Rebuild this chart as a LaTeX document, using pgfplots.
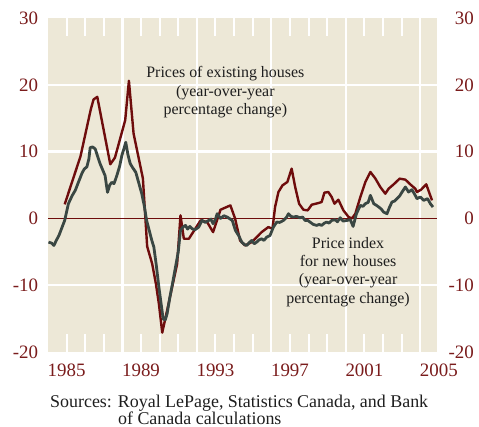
\documentclass[border=0pt]{standalone}
\usepackage{fontspec}
\setmainfont{Liberation Serif}
\usepackage{pgfplots}
\pgfplotsset{compat=1.18}
\definecolor{bg}{RGB}{237,232,215}
\definecolor{redl}{RGB}{110,12,12}
\definecolor{grayl}{RGB}{58,71,67}
\definecolor{lab}{RGB}{122,28,28}
\definecolor{txt}{RGB}{30,30,30}

\pgfplotstableread{
x y
1984.9 2.1
1985.75 9.3
1986.3 16.3
1986.45 17.8
1986.65 18.2
1987.35 8.1
1987.6 9.1
1988.15 14.7
1988.35 20.6
1988.6 12.7
1989.1 6.0
1989.33 -4.2
1989.6 -6.8
1989.8 -9.8
1989.96 -12.8
1990.14 -17.1
1990.4 -13.8
1990.67 -10.3
1990.94 -6.8
1991.12 0.45
1991.3 -3.05
1991.57 -3.05
1992.2 -0.3
1992.55 -0.55
1992.87 -2.05
1993.27 1.3
1993.8 1.95
1994.05 0
1994.32 -3.3
1994.59 -4.05
1994.95 -3.55
1995.48 -2.05
1995.84 -1.3
1996.06 -1.55
1996.2 1.7
1996.38 3.95
1996.6 4.95
1996.86 5.45
1997.09 7.45
1997.28 4.7
1997.49 2.2
1997.72 1.3
1997.95 1.2
1998.17 2.05
1998.53 2.3
1998.7 2.45
1998.85 3.85
1999.06 3.95
1999.24 3.2
1999.39 2.2
1999.6 2.8
1999.87 1.2
2000.15 0.2
2000.33 0
2000.51 0.7
2000.78 3.2
2001.05 5.45
2001.32 6.95
2001.59 5.95
2001.85 4.7
2002.12 3.7
2002.3 4.45
2002.57 5.1
2002.89 5.95
2003.2 5.8
2003.46 5.1
2003.73 4.45
2003.82 3.95
2004.04 4.3
2004.32 5.1
2004.5 3.7
2004.63 2.7
}\existing

\pgfplotstableread{
x y
1984.03 -3.55
1984.2 -3.7
1984.32 -4.05
1984.45 -3.3
1984.6 -2.5
1984.75 -1.4
1984.9 -0.3
1985.1 2.2
1985.3 3.4
1985.47 4.2
1985.65 5.5
1985.82 6.7
1985.95 7.4
1986.09 7.7
1986.2 8.9
1986.27 10.6
1986.4 10.7
1986.54 10.4
1986.68 9.2
1986.8 8.2
1986.95 7.2
1987.07 6.4
1987.2 3.9
1987.32 5.0
1987.43 5.4
1987.55 5.2
1987.7 6.4
1987.85 7.8
1987.97 9.4
1988.1 10.6
1988.18 11.4
1988.3 9.5
1988.42 8.2
1988.55 7.6
1988.72 6.9
1988.88 5.3
1989.04 3.7
1989.18 1.8
1989.3 -0.3
1989.45 -1.9
1989.58 -3.3
1989.69 -4.3
1989.82 -7.0
1989.96 -10.3
1990.08 -12.8
1990.19 -15.05
1990.3 -15.2
1990.4 -14.3
1990.55 -11.8
1990.7 -9.6
1990.85 -7.3
1991.0 -5.0
1991.12 -1.8
1991.25 -1.3
1991.39 -1.05
1991.5 -1.6
1991.62 -1.2
1991.75 -1.55
1991.9 -1.7
1992.1 -1.3
1992.28 -0.3
1992.45 -0.6
1992.64 -0.3
1992.75 -0.1
1992.87 -0.8
1993.0 -0.1
1993.09 0.7
1993.27 0
1993.45 0.4
1993.63 0.2
1993.9 -0.3
1994.07 -1.8
1994.25 -2.6
1994.41 -3.55
1994.55 -3.9
1994.68 -4.05
1994.82 -3.6
1994.95 -3.3
1995.08 -3.8
1995.21 -3.55
1995.35 -3.2
1995.48 -3.05
1995.6 -3.3
1995.75 -2.8
1995.93 -2.55
1996.11 -1.3
1996.29 -0.55
1996.45 -0.6
1996.65 -0.3
1996.8 0.1
1996.92 0.7
1997.05 0.3
1997.19 0.2
1997.35 0.3
1997.54 0.1
1997.68 0.2
1997.81 -0.3
1997.95 -0.3
1998.08 -0.55
1998.25 -0.9
1998.44 -1.05
1998.57 -0.9
1998.7 -1.05
1998.85 -0.7
1998.97 -0.55
1999.1 -0.7
1999.24 -0.3
1999.42 -0.2
1999.55 -0.5
1999.7 0.1
1999.85 -0.4
2000.07 -0.3
2000.24 -0.2
2000.39 -1.2
2000.57 0.7
2000.78 1.95
2000.92 1.8
2001.05 2.2
2001.2 2.4
2001.32 3.45
2001.5 2.2
2001.62 2.0
2001.77 1.7
2001.9 1.4
2002.03 0.95
2002.21 0.7
2002.35 1.7
2002.48 2.45
2002.62 2.6
2002.75 2.95
2002.9 3.4
2003.02 3.95
2003.2 4.7
2003.37 3.95
2003.55 4.3
2003.7 3.6
2003.82 2.95
2004.0 3.2
2004.18 2.7
2004.39 2.95
2004.54 2.2
2004.68 1.7
}\newhouses

\begin{document}
\begin{tikzpicture}
\begin{axis}[
  scale only axis, width=388.2bp, height=334bp,
  xmin=1984.02, xmax=2004.87, ymin=-20, ymax=30,
  clip=false,
  axis line style={draw=none},
  axis background/.style={fill=bg},
  xtick={1988,1992,1996,2000,2004},
  xticklabels={},
  xmajorgrids,
  minor xtick={1985,...,2004},
  tick align=inside,
  major tick length=0pt,
  minor tick length=18bp,
  every minor tick/.append style={white, line width=2bp},
  grid style={white, line width=2.2bp},
  ytick={-20,-10,0,10,20,30},
  yticklabels={-20,-10,0,10,20,30},
  extra y ticks={-10,10,20},
  extra y tick labels={},
  extra y tick style={grid=major},
  extra x ticks={1985,1989,1993,1997,2001},
  extra x tick labels={1985,1989,1993,1997,2001},
  extra x tick style={grid=none},
  ticklabel style={font=\fontsize{19}{22}\selectfont, text=lab},
  xticklabel style={inner sep=0pt, anchor=base, yshift=-24bp},
  yticklabel style={inner sep=0pt, anchor=east, xshift=-10bp},
]
\coordinate (O) at (rel axis cs:0,0);
\addplot[redl, line width=0.8bp] coordinates {(1984.02,0) (2004.87,0)};
\addplot[redl, line width=2.4bp, line join=round] table {\existing};
\addplot[grayl, line width=2.8bp, line join=round] table {\newhouses};
\node[anchor=base, inner sep=0pt, font=\fontsize{19}{22}\selectfont, text=lab] at (axis cs:2005,-20) [yshift=-24bp] {2005};
\begin{scope}[every node/.style={anchor=base, inner sep=0pt, font=\fontsize{16}{19}\selectfont, text=txt}]
\node at (axis cs:1993.53,21.02) {Prices of existing houses};
\node at (axis cs:1993.53,18.2) {(year-over-year};
\node at (axis cs:1993.53,15.48) {percentage change)};
\node at (axis cs:2000.12,-4.48) {Price index};
\node at (axis cs:2000.12,-7.23) {for new houses};
\node at (axis cs:2000.12,-9.94) {(year-over-year};
\node at (axis cs:2000.12,-12.7) {percentage change)};
\end{scope}
\begin{scope}[every node/.style={anchor=base west, inner sep=0pt, font=\fontsize{18}{21}\selectfont, text=txt}]
\node at (axis cs:1984.11,-28.34) {Sources: Royal LePage, Statistics Canada, and Bank};
\node at (axis cs:1987.76,-30.85) {of Canada calculations};
\end{scope}
\end{axis}
\begin{axis}[
  scale only axis, width=388.2bp, height=334bp,
  xmin=1984.02, xmax=2004.87, ymin=-20, ymax=30,
  hide x axis, axis y line*=right,
  axis line style={draw=none},
  major tick length=0pt,
  ytick={-20,-10,0,10,20,30},
  yticklabels={-20,-10,0,10,20,30},
  yticklabel style={inner sep=0pt, anchor=east, xshift=37.5bp, font=\fontsize{19}{22}\selectfont, text=lab},
]
\addplot[draw=none] coordinates {(1990,0)};
\end{axis}
\pgfresetboundingbox
\path[use as bounding box] (O) ++(-48.3bp,-75bp) rectangle ++(479bp,427bp);
\end{tikzpicture}
\end{document}
